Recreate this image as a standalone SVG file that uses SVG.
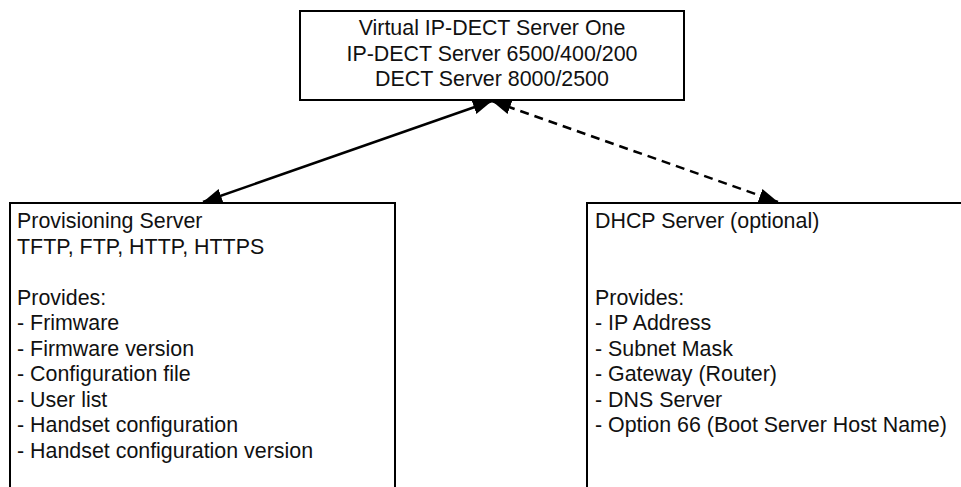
<svg xmlns="http://www.w3.org/2000/svg" width="961" height="487" viewBox="0 0 961 487">
<style>
.box{fill:#fff;stroke:#000;stroke-width:2}
.t{font-family:"Liberation Sans",Arial,sans-serif;font-size:21.4px;fill:#111}
.c{text-anchor:middle}
.ln{fill:none;stroke:#000;stroke-width:2.5}
.dash{stroke-dasharray:9 6}
</style>
<defs>
<marker id="ah" markerUnits="userSpaceOnUse" markerWidth="20" markerHeight="16" refX="19" refY="8" orient="auto-start-reverse" viewBox="0 0 20 16">
<path d="M0,1 L19,8 L0,15 z" fill="#000"/>
</marker>
</defs>
<rect width="961" height="487" fill="#fff"/>
<g id="connectors">
<line class="ln" x1="492" y1="101" x2="203" y2="202" marker-start="url(#ah)" marker-end="url(#ah)"/>
<line class="ln dash" x1="492" y1="101" x2="778" y2="202" marker-start="url(#ah)" marker-end="url(#ah)"/>
</g>
<g id="node-top">
<rect class="box" x="300" y="11" width="384" height="89"/>
<text class="t c" x="492" y="35">Virtual IP-DECT Server One</text>
<text class="t c" x="492" y="61">IP-DECT Server 6500/400/200</text>
<text class="t c" x="492" y="86">DECT Server 8000/2500</text>
</g>
<g id="node-provisioning">
<rect class="box" x="10" y="203" width="385" height="300"/>
<text class="t" x="17" y="228">Provisioning Server</text>
<text class="t" x="17" y="253.5">TFTP, FTP, HTTP, HTTPS</text>
<text class="t" x="17" y="304.5">Provides:</text>
<text class="t" x="17" y="330">- Frimware</text>
<text class="t" x="17" y="355.5">- Firmware version</text>
<text class="t" x="17" y="381">- Configuration file</text>
<text class="t" x="17" y="406.5">- User list</text>
<text class="t" x="17" y="432">- Handset configuration</text>
<text class="t" x="17" y="457.5">- Handset configuration version</text>
</g>
<g id="node-dhcp">
<rect class="box" x="587" y="203" width="400" height="300"/>
<text class="t" x="595" y="228">DHCP Server (optional)</text>
<text class="t" x="595" y="304.5">Provides:</text>
<text class="t" x="595" y="330">- IP Address</text>
<text class="t" x="595" y="355.5">- Subnet Mask</text>
<text class="t" x="595" y="381">- Gateway (Router)</text>
<text class="t" x="595" y="406.5">- DNS Server</text>
<text class="t" x="595" y="432">- Option 66 (Boot Server Host Name)</text>
</g>
</svg>
